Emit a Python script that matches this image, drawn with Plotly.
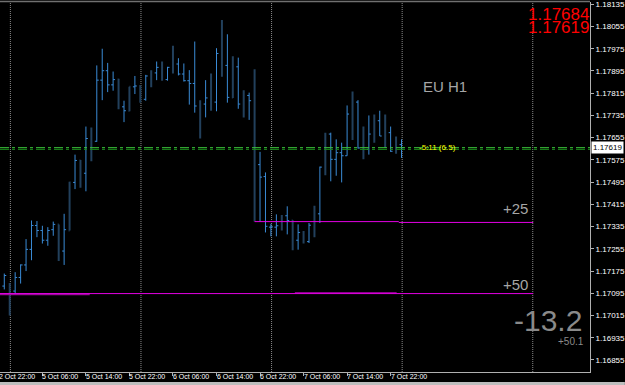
import plotly.graph_objects as go

# ---------------- data (EURUSD H1 bars) ----------------
bar_index = list(range(74))
bar_open = [1.17121, 1.17103, 1.17103, 1.17152, 1.17197, 1.17253, 1.17339, 1.17321, 1.17286, 1.17324,
            1.17343, 1.17247, 1.17321, 1.17494, 1.17573, 1.17527, 1.17652, 1.17642, 1.17862, 1.17896,
            1.17845, 1.17864, 1.17766, 1.17752, 1.17838, 1.17841, 1.17793, 1.17877, 1.17888, 1.17908,
            1.17864, 1.17908, 1.17920, 1.17884, 1.17860, 1.17850, 1.17769, 1.17776, 1.17798, 1.17783,
            1.17958, 1.17915, 1.17800, 1.17910, 1.17776, 1.17807, 1.17788, 1.17558, 1.17515, 1.17333,
            1.17333, 1.17338, 1.17374, 1.17357, 1.17286, 1.17314, 1.17281, 1.17336, 1.17381, 1.17546,
            1.17668, 1.17577, 1.17601, 1.17590, 1.17740, 1.17783, 1.17616, 1.17613, 1.17666, 1.17716,
            1.17661, 1.17673, 1.17601, 1.17630]
bar_high = [1.17166, 1.17132, 1.17171, 1.17199, 1.17290, 1.17357, 1.17355, 1.17338, 1.17333, 1.17353,
            1.17343, 1.17381, 1.17496, 1.17594, 1.17575, 1.17695, 1.17692, 1.17915, 1.17975, 1.17924,
            1.17893, 1.17867, 1.17788, 1.17838, 1.17877, 1.17843, 1.17881, 1.17898, 1.17929, 1.17929,
            1.17910, 1.17986, 1.17941, 1.17922, 1.17898, 1.18001, 1.17790, 1.17862, 1.17886, 1.17977,
            1.18078, 1.18027, 1.17948, 1.17943, 1.17826, 1.17817, 1.17901, 1.17604, 1.17530, 1.17345,
            1.17379, 1.17377, 1.17408, 1.17358, 1.17343, 1.17319, 1.17348, 1.17410, 1.17551, 1.17673,
            1.17673, 1.17649, 1.17637, 1.17771, 1.17821, 1.17790, 1.17695, 1.17735, 1.17738, 1.17752,
            1.17738, 1.17695, 1.17659, 1.17649]
bar_low = [1.17109, 1.17015, 1.17089, 1.17130, 1.17175, 1.17214, 1.17297, 1.17274, 1.17266, 1.17302,
           1.17211, 1.17197, 1.17321, 1.17470, 1.17475, 1.17462, 1.17570, 1.17640, 1.17790, 1.17819,
           1.17824, 1.17757, 1.17711, 1.17750, 1.17812, 1.17781, 1.17788, 1.17836, 1.17862, 1.17860,
           1.17860, 1.17886, 1.17879, 1.17857, 1.17774, 1.17745, 1.17652, 1.17728, 1.17752, 1.17750,
           1.17874, 1.17781, 1.17798, 1.17759, 1.17728, 1.17719, 1.17353, 1.17353, 1.17314, 1.17300,
           1.17300, 1.17321, 1.17307, 1.17250, 1.17252, 1.17274, 1.17276, 1.17297, 1.17348, 1.17520,
           1.17498, 1.17518, 1.17494, 1.17590, 1.17647, 1.17616, 1.17577, 1.17594, 1.17637, 1.17661,
           1.17618, 1.17604, 1.17597, 1.17582]
bar_close = [1.17159, 1.17099, 1.17152, 1.17197, 1.17253, 1.17339, 1.17321, 1.17286, 1.17321, 1.17343,
             1.17247, 1.17324, 1.17494, 1.17573, 1.17527, 1.17652, 1.17642, 1.17862, 1.17896, 1.17845,
             1.17864, 1.17764, 1.17752, 1.17838, 1.17841, 1.17795, 1.17877, 1.17888, 1.17908, 1.17864,
             1.17908, 1.17922, 1.17884, 1.17860, 1.17850, 1.17769, 1.17774, 1.17798, 1.17785, 1.17958,
             1.17915, 1.17800, 1.17910, 1.17776, 1.17807, 1.17788, 1.17561, 1.17513, 1.17336, 1.17334,
             1.17338, 1.17372, 1.17357, 1.17286, 1.17314, 1.17283, 1.17340, 1.17377, 1.17549, 1.17668,
             1.17577, 1.17601, 1.17590, 1.17740, 1.17783, 1.17618, 1.17613, 1.17668, 1.17716, 1.17661,
             1.17673, 1.17606, 1.17630, 1.17619]
dark_bars = [1, 10, 12, 14, 16, 21, 23, 25, 27, 29, 31, 36, 38, 40, 42, 44, 46,
             51, 53, 55, 57, 59, 64, 66, 68, 70, 72]

time_label_bars = [-1, 7, 15, 23, 31, 39, 47, 55, 63, 71]
time_labels = ["2 Oct 22:00", "5 Oct 06:00", "5 Oct 14:00", "5 Oct 22:00", "6 Oct 06:00",
               "6 Oct 14:00", "6 Oct 22:00", "7 Oct 06:00", "7 Oct 14:00", "7 Oct 22:00"]
grid_bars = [1, 25, 49, 73, 97]
price_ticks = [1.16855, 1.16935, 1.17015, 1.17095, 1.17175, 1.17255, 1.17335, 1.17415, 1.17495,
               1.17575, 1.17655, 1.17735, 1.17815, 1.17895, 1.17975, 1.18055, 1.18135]

bid_price = 1.17619
ask_price = 1.17684
second_line_price = 1.17613
level_prices = [1.17353, 1.17094]
level_labels = ["+25", "+50"]
level_start_bar = 46
level_end_bar = 97.2
timer_text = "-5:11 (6.5)"
title_text = "EU H1"
big_value = "-13.2"
small_value = "+50.1"

# ---------------- layout geometry ----------------
W, H = 625, 385
PL, PR, PT, PB = 0, 592, 1, 372          # plot area in pixels
X_RANGE = [-0.788, 107.64]
Y_RANGE = [1.168118, 1.181432]

def paper_x(px):
    return (px - PL) / (PR - PL)

def paper_y(py):
    return (PB - py) / (PB - PT)

def bar_to_paper(b):
    return (b - X_RANGE[0]) / (X_RANGE[1] - X_RANGE[0])

BLUE = "#3a8bd6"
DARK = "#22405c"
GRAY_TXT = "#a6a6a6"
FONT = "Liberation Sans, Arial, sans-serif"

light_idx = [i for i in bar_index if i not in dark_bars]

fig = go.Figure()
fig.add_trace(go.Ohlc(
    x=[bar_index[i] for i in light_idx],
    open=[bar_open[i] for i in light_idx], high=[bar_high[i] for i in light_idx],
    low=[bar_low[i] for i in light_idx], close=[bar_close[i] for i in light_idx],
    increasing=dict(line=dict(color=BLUE, width=1)),
    decreasing=dict(line=dict(color=BLUE, width=1)),
    tickwidth=0.36, showlegend=False, hoverinfo="skip"))
fig.add_trace(go.Ohlc(
    x=[bar_index[i] for i in dark_bars],
    open=[bar_open[i] for i in dark_bars], high=[bar_high[i] for i in dark_bars],
    low=[bar_low[i] for i in dark_bars], close=[bar_close[i] for i in dark_bars],
    increasing=dict(line=dict(color=DARK, width=2)),
    decreasing=dict(line=dict(color=DARK, width=2)),
    tickwidth=0.18, showlegend=False, hoverinfo="skip"))

shapes = []
# vertical dotted grid
for g in grid_bars:
    shapes.append(dict(type="line", xref="x", yref="paper", x0=g + 0.12, x1=g + 0.12, y0=0, y1=1,
                       line=dict(color="#8a8a8a", width=1, dash="1px,1px"), layer="below"))
# bid / second green lines
shapes.append(dict(type="line", xref="paper", yref="y", x0=0, x1=1, y0=bid_price, y1=bid_price,
                   line=dict(color="#3cc83c", width=1, dash="dashdot")))
shapes.append(dict(type="line", xref="paper", yref="y", x0=0, x1=1,
                   y0=second_line_price, y1=second_line_price,
                   line=dict(color="#1a901a", width=1, dash="dashdot")))
# magenta target levels
shapes.append(dict(type="line", xref="x", yref="y", x0=level_start_bar, x1=72.5,
                   y0=level_prices[0], y1=level_prices[0], line=dict(color="#e400e4", width=1)))
shapes.append(dict(type="line", xref="x", yref="y", x0=72.5, x1=level_end_bar,
                   y0=level_prices[0] - 0.00003, y1=level_prices[0] - 0.00003,
                   line=dict(color="#e400e4", width=1)))
shapes.append(dict(type="line", xref="x", yref="y", x0=X_RANGE[0], x1=15.7,
                   y0=level_prices[1] - 0.00002, y1=level_prices[1] - 0.00002,
                   line=dict(color="#9a0a9a", width=2)))
shapes.append(dict(type="line", xref="x", yref="y", x0=53.4, x1=72.1,
                   y0=level_prices[1] + 0.00003, y1=level_prices[1] + 0.00003,
                   line=dict(color="#8a008a", width=1.5)))
shapes.append(dict(type="line", xref="x", yref="y", x0=X_RANGE[0], x1=level_end_bar,
                   y0=level_prices[1], y1=level_prices[1], line=dict(color="#e400e4", width=1)))
# frame bits
shapes.append(dict(type="line", xref="paper", yref="paper", x0=0, x1=1,
                   y0=paper_y(0.5), y1=paper_y(0.5), line=dict(color="#707070", width=1.5)))
shapes.append(dict(type="rect", xref="paper", yref="paper", x0=-0.01, x1=paper_x(W + 2),
                   y0=paper_y(382), y1=paper_y(H + 2), line=dict(width=0), fillcolor="#bdbdbd"))

ann = []
for b, t in zip(time_label_bars, time_labels):
    ann.append(dict(xref="paper", yref="paper", x=bar_to_paper(b), y=paper_y(377),
                    xanchor="left", yanchor="middle", xshift=-1, showarrow=False, text=t,
                    font=dict(family=FONT, size=7, color="#ffffff"), borderpad=0))
# red price text
ann.append(dict(xref="paper", yref="paper", x=1, y=paper_y(13.5), xanchor="right", yanchor="middle",
                showarrow=False, text=f"{ask_price:.5f}", borderpad=0,
                font=dict(family=FONT, size=17, color="#ff0000")))
ann.append(dict(xref="paper", yref="paper", x=1, y=paper_y(26.5), xanchor="right", yanchor="middle",
                showarrow=False, text=f"{bid_price:.5f}", borderpad=0,
                font=dict(family=FONT, size=17, color="#ff0000")))
# chart title
ann.append(dict(xref="paper", yref="paper", x=paper_x(447), y=paper_y(85.5), xanchor="center",
                yanchor="middle", showarrow=False, text=title_text,
                font=dict(family=FONT, size=15, color=GRAY_TXT)))
# level labels
for p, t, cy in zip(level_prices, level_labels, [208.5, 284.5]):
    ann.append(dict(xref="paper", yref="paper", x=paper_x(531), y=paper_y(cy), xanchor="right",
                    yanchor="middle", showarrow=False, text=t, borderpad=0,
                    font=dict(family=FONT, size=15, color=GRAY_TXT)))
# timer
ann.append(dict(xref="paper", yref="y", x=paper_x(419), y=bid_price, xanchor="left",
                yanchor="middle", showarrow=False, text=timer_text, borderpad=0,
                font=dict(family=FONT, size=8, color="#ffff00")))
# big numbers
ann.append(dict(xref="paper", yref="paper", x=paper_x(585), y=paper_y(320.5), xanchor="right",
                yanchor="middle", showarrow=False, text=big_value, borderpad=0,
                font=dict(family=FONT, size=30, color="#8a8a8a")))
ann.append(dict(xref="paper", yref="paper", x=paper_x(587), y=paper_y(341), xanchor="right",
                yanchor="middle", showarrow=False, text=small_value, borderpad=0,
                font=dict(family=FONT, size=10, color="#8a8a8a")))
# current price box on axis
ann.append(dict(xref="paper", yref="y", x=1, y=bid_price, xanchor="left", yanchor="middle",
                xshift=1, showarrow=False, text=f"{bid_price:.5f}", bgcolor="#ffffff", borderpad=1,
                font=dict(family=FONT, size=8, color="#000000")))

fig.update_layout(
    width=W, height=H,
    margin=dict(l=PL, r=W - PR, t=PT, b=H - PB, pad=0),
    paper_bgcolor="#000000", plot_bgcolor="#000000",
    shapes=shapes, annotations=ann, showlegend=False,
    xaxis=dict(range=X_RANGE, rangeslider=dict(visible=False), showgrid=False, zeroline=False,
               showticklabels=False, ticks="outside", ticklen=3, tickcolor="#b0b0b0",
               tickmode="array", tickvals=time_label_bars,
               showline=True, linecolor="#b0b0b0", linewidth=1, fixedrange=True),
    yaxis=dict(range=Y_RANGE, side="right", showgrid=False, zeroline=False,
               tickmode="array", tickvals=price_ticks, ticktext=[f"{v:.5f}" for v in price_ticks],
               ticks="outside", ticklen=3, tickcolor="#b0b0b0", ticklabeloverflow="allow",
               tickfont=dict(family=FONT, size=8, color="#ffffff"),
               showline=True, linecolor="#b0b0b0", linewidth=1, fixedrange=True),
)

fig.write_html("out.html")
